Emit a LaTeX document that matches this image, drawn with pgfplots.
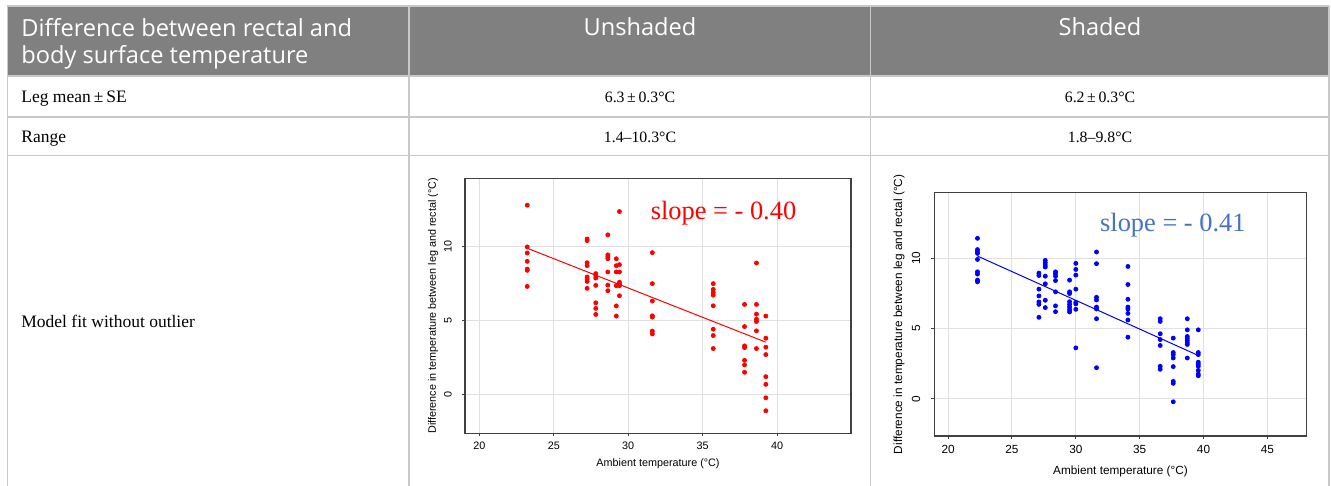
\documentclass[border=0pt]{standalone}
\usepackage{fontspec}
\usepackage{pgfplots}
\pgfplotsset{compat=1.18}
\setmainfont{Liberation Serif}
\setsansfont{Liberation Sans}
\newfontfamily\headfont{Open Sans}

\definecolor{hdrgray}{RGB}{128,128,128}
\definecolor{rulegray}{RGB}{200,200,200}
\definecolor{slopeblue}{RGB}{68,114,196}

% unshaded: ambient temperature vs leg-rectal difference
\pgfplotstableread{
x y
23.22 12.83
23.22 10.00
23.22 9.59
23.22 9.02
23.22 8.50
23.22 8.41
23.22 7.32
27.24 10.54
27.24 10.43
27.24 8.93
27.24 8.73
27.24 7.96
27.24 7.82
27.24 7.66
27.24 7.19
27.82 8.19
27.82 8.05
27.82 7.89
27.82 7.39
27.82 6.21
27.82 5.83
27.82 5.42
28.63 10.82
28.63 9.46
28.63 9.34
28.63 9.20
28.63 8.30
28.63 7.41
28.63 7.03
29.20 9.20
29.20 8.73
29.20 8.30
29.20 7.37
29.20 6.00
29.20 5.31
29.41 12.40
29.41 8.80
29.41 8.30
29.41 7.60
29.41 7.48
29.41 7.37
29.41 6.69
31.62 9.61
31.62 7.51
31.62 6.33
31.62 5.33
31.62 5.24
31.62 4.29
31.62 4.10
35.71 7.51
35.71 7.12
35.71 6.92
35.71 6.73
35.71 6.01
35.71 4.42
35.71 3.99
35.71 3.11
37.81 6.10
37.81 4.60
37.81 3.29
37.81 3.17
37.81 2.31
37.81 2.00
37.81 1.50
38.61 8.91
38.61 6.10
38.61 5.44
38.61 5.10
38.61 4.94
38.61 4.31
38.61 3.11
39.24 5.31
39.24 3.81
39.24 3.20
39.24 2.70
39.24 1.20
39.24 0.68
39.24 -0.23
39.24 -1.11
}\unshaded

% shaded
\pgfplotstableread{
x y
22.30 11.40
22.30 10.60
22.30 10.45
22.30 10.33
22.30 9.90
22.30 9.02
22.30 8.86
22.30 8.43
22.30 8.31
27.11 8.93
27.11 8.76
27.11 7.79
27.11 7.31
27.11 6.88
27.11 6.71
27.11 5.79
27.61 9.83
27.61 9.67
27.61 9.50
27.61 9.36
27.61 8.71
27.61 8.17
27.61 7.00
27.61 6.48
28.41 9.02
28.41 8.88
28.41 8.71
28.41 8.40
28.41 7.60
28.41 6.60
28.41 6.19
29.51 8.43
29.51 7.60
29.51 7.48
29.51 6.90
29.51 6.71
29.51 6.52
29.51 6.33
29.51 6.17
30.00 9.62
30.00 9.19
30.00 8.79
30.00 7.79
30.00 6.86
30.00 6.74
30.00 6.36
30.00 3.62
31.62 10.43
31.62 9.60
31.62 7.21
31.62 7.02
31.62 6.52
31.62 6.38
31.62 5.69
31.62 2.21
34.08 9.40
34.08 8.12
34.08 7.07
34.08 6.52
34.08 6.38
34.08 6.07
34.08 5.60
34.08 4.38
36.61 5.69
36.61 5.50
36.61 4.62
36.61 4.21
36.61 3.79
36.61 2.31
36.61 2.10
37.63 4.31
37.63 3.29
37.63 3.14
37.63 2.90
37.63 2.29
37.63 1.24
37.63 1.10
37.63 -0.21
38.73 5.69
38.73 4.90
38.73 4.43
38.73 4.29
38.73 4.14
38.73 3.98
38.73 3.86
38.73 2.90
39.59 4.90
39.59 3.29
39.59 3.14
39.59 2.60
39.59 2.45
39.59 2.31
39.59 2.02
39.59 1.76
39.59 1.64
}\shaded

\pgfplotsset{
  panel/.style={
    scale only axis,
    axis line style={black!75, line width=0.7pt},
    ymin=-2.64, ymax=14.64,
    ytick={0,5,10},
    grid=major,
    grid style={black!12, line width=0.5pt},
    tick pos=left,
    tick align=outside,
    major tick length=1.5pt,
    tick style={black!75, line width=0.5pt},
    /pgf/number format/assume math mode=true,
    yticklabel style={rotate=90, anchor=center},
    xticklabel style={anchor=center},
    xlabel={Ambient temperature (°C)},
    ylabel={Difference in temperature between leg and rectal (°C)},
    xlabel style={anchor=center},
    ylabel style={anchor=center},
  }
}

\begin{document}
\begin{tikzpicture}[x=0.5pt, y=-0.5pt]
\path[use as bounding box] (0,0) rectangle (1331,486);
\clip (0,0) rectangle (1331,486);

% header band
\fill[hdrgray] (7.3,6) rectangle (1329,76);

% rules
\begin{scope}[rulegray, line width=0.75pt]
\draw (7.3,6) -- (1329,6);
\draw (7.3,76) -- (1329,76);
\draw (7.3,117) -- (1329,117);
\draw (7.3,155.5) -- (1329,155.5);
\draw (7.3,6) -- (7.3,486);
\draw (409,6) -- (409,486);
\draw (870.7,6) -- (870.7,486);
\draw (1329,6) -- (1329,486);
\end{scope}

% header text
\begin{scope}[every node/.style={text=white, inner sep=0pt, font=\headfont\fontsize{11.8}{14}\selectfont}]
\node[anchor=base west] at (21,37) {Difference between rectal and};
\node[anchor=base west] at (21,63.5) {body surface temperature};
\node[anchor=base] at (640,36) {Unshaded};
\node[anchor=base] at (1100,36) {Shaded};
\end{scope}

% body text
\begin{scope}[every node/.style={inner sep=0pt, font=\fontsize{8.75}{10}\selectfont}]
\node[anchor=base west] at (21,103) {Leg mean\,±\,SE};
\node[anchor=base west] at (21,142.3) {Range};
\node[anchor=base west] at (21,327) {Model fit without outlier};
\end{scope}
\begin{scope}[every node/.style={inner sep=0pt, font=\fontsize{7.9}{10}\selectfont}]
\node[anchor=base] at (640,103) {6.3\,±\,0.3°C};
\node[anchor=base] at (1100,103) {6.2\,±\,0.3°C};
\node[anchor=base] at (640,142.3) {1.4–10.3°C};
\node[anchor=base] at (1100,142.3) {1.8–9.8°C};
\end{scope}

\coordinate (p1) at (465,178.5);
\coordinate (p2) at (934.3,192.7);

\begin{axis}[panel,
  at={(p1)}, anchor=north west,
  width=193pt, height=127.4pt,
  xmin=19.04, xmax=44.96,
  xtick={20,25,30,35,40},
  tick label style={font=\sffamily\fontsize{5.4}{6}\selectfont},
  label style={font=\sffamily\fontsize{5.4}{6}\selectfont},
  yticklabel style={yshift=7pt},
  xticklabel style={yshift=-4.85pt},
  xlabel style={at={(axis description cs:0.5,-0.1205)}},
  ylabel style={at={(axis description cs:-0.083,0.5)}},
]
\addplot[only marks, mark=*, mark size=1pt, color=red] table {\unshaded};
\addplot[red, line width=0.5pt] coordinates {(23.22,9.91) (39.24,3.54)};
\node[text=red, font=\rmfamily\fontsize{13.2}{15}\selectfont, inner sep=0pt] at (axis cs:36.4,12.3) {slope = - 0.40};
\end{axis}

\begin{axis}[panel,
  at={(p2)}, anchor=north west,
  width=186.2pt, height=121.65pt,
  xmin=18.92, xmax=48.08,
  xtick={20,25,30,35,40,45},
  tick label style={font=\sffamily\fontsize{5.9}{7}\selectfont},
  label style={font=\sffamily\fontsize{5.9}{7}\selectfont},
  yticklabel style={yshift=7.65pt},
  xticklabel style={yshift=-5pt},
  xlabel style={at={(axis description cs:0.5,-0.145)}},
  ylabel style={at={(axis description cs:-0.0948,0.5)}},
]
\addplot[only marks, mark=*, mark size=1pt, color=blue] table {\shaded};
\addplot[blue, line width=0.5pt] coordinates {(22.30,10.14) (39.59,3.08)};
\node[text=slopeblue, font=\rmfamily\fontsize{13.2}{15}\selectfont, inner sep=0pt] at (axis cs:37.6,12.3) {slope = - 0.41};
\end{axis}
\end{tikzpicture}
\end{document}
